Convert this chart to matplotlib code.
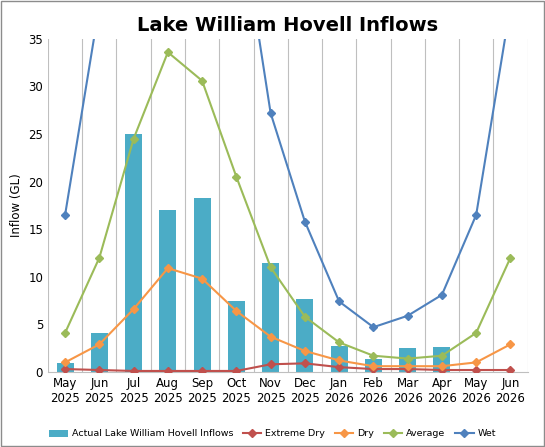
import matplotlib
matplotlib.use('agg')
import matplotlib.pyplot as plt
import numpy as np

months = ['May\n2025', 'Jun\n2025', 'Jul\n2025', 'Aug\n2025', 'Sep\n2025', 'Oct\n2025', 'Nov\n2025',
          'Dec\n2025', 'Jan\n2026', 'Feb\n2026', 'Mar\n2026', 'Apr\n2026', 'May\n2026', 'Jun\n2026']
actual = [0.9, 4.1, 25.0, 17.0, 18.3, 7.4, 11.4, 7.7, 2.7, 1.4, 2.5, 2.6]
extreme_dry = [0.3, 0.2, 0.1, 0.1, 0.1, 0.1, 0.8, 0.9, 0.5, 0.3, 0.3, 0.2, 0.2, 0.2]
dry = [1.0, 2.9, 6.6, 10.9, 9.8, 6.4, 3.7, 2.2, 1.2, 0.6, 0.6, 0.6, 1.0, 2.9]
average = [4.1, 12.0, 24.5, 33.6, 30.6, 20.5, 11.0, 5.8, 3.1, 1.7, 1.4, 1.7, 4.1, 12.0]
wet = [16.5, 38.5, 55.0, 70.0, 65.0, 50.5, 27.2, 15.8, 7.4, 4.7, 5.9, 8.1, 16.5, 38.5]

fig = plt.figure(figsize=(5.45, 4.47), dpi=100)
ax = fig.add_axes([0.088, 0.168, 0.88, 0.745])
x = np.arange(len(months))

bars = ax.bar(x[:len(actual)], actual, width=0.5, color='#4bacc6', label='Actual Lake William Hovell Inflows', zorder=2)
l1, = ax.plot(x, extreme_dry, color='#c0504d', marker='D', ms=4, lw=1.5, label='Extreme Dry', zorder=3)
l2, = ax.plot(x, dry, color='#f79646', marker='D', ms=4, lw=1.5, label='Dry', zorder=3)
l3, = ax.plot(x, average, color='#9bbb59', marker='D', ms=4, lw=1.5, label='Average', zorder=3)
l4, = ax.plot(x, wet, color='#4f81bd', marker='D', ms=4, lw=1.5, label='Wet', zorder=3)

ax.set_ylim(0, 35)
ax.set_xlim(-0.5, len(months) - 0.5)
ax.set_yticks(range(0, 36, 5))
ax.set_xticks(x)
ax.set_xticklabels(months, fontsize=8.5)
ax.tick_params(axis='y', labelsize=8.5, length=0)
ax.tick_params(axis='x', length=0)
ax.set_xticks(np.arange(-0.5, len(months), 1), minor=True)
ax.tick_params(axis='x', which='minor', length=0)
ax.grid(True, which='minor', axis='x', color='#bfbfbf', lw=0.8, zorder=0)
ax.grid(False, which='major')
for s in ['top', 'right', 'left']:
    ax.spines[s].set_visible(False)
ax.spines['bottom'].set_color('#bfbfbf')
ax.set_ylabel('Inflow (GL)', fontsize=8.5)
ax.set_title('Lake William Hovell Inflows', fontsize=14, fontweight='bold', pad=6)

fig.legend(handles=[bars, l1, l2, l3, l4], loc='lower center', ncol=5, fontsize=6.8, frameon=False,
           handlelength=2, columnspacing=1.0, handletextpad=0.4, bbox_to_anchor=(0.5, 0.0))
fig.patches.append(plt.Rectangle((0.002, 0.002), 0.996, 0.996, transform=fig.transFigure,
                                 fill=False, edgecolor='#8c8c8c', lw=1))
fig.savefig('out.png', dpi=100)
